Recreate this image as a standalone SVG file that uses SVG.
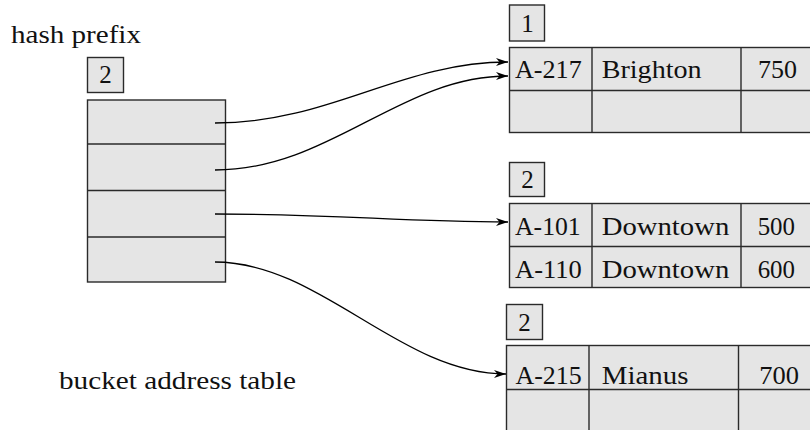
<svg xmlns="http://www.w3.org/2000/svg" width="810" height="430" viewBox="0 0 810 430">
<defs>
<style>
.cell{fill:#e5e5e5;stroke:#2a2a2a;stroke-width:1.4}
.ln{stroke:#2a2a2a;stroke-width:1.4;fill:none}
text{font-family:'Liberation Serif','Times New Roman',serif;font-size:25px;fill:#111}
.c{fill:none;stroke:#000;stroke-width:1.3}
</style>
<marker id="ah" markerUnits="userSpaceOnUse" markerWidth="14" markerHeight="10" refX="12" refY="5" orient="auto">
<path d="M0,1 L12,5 L0,9 L3.5,5 Z" fill="#000"/>
</marker>
</defs>
<rect width="810" height="430" fill="#fff"/>

<g id="labels">
<text x="11" y="43" textLength="130" lengthAdjust="spacingAndGlyphs">hash prefix</text>
<text x="59" y="389" textLength="237" lengthAdjust="spacingAndGlyphs">bucket address table</text>
</g>

<g id="bucket-address-table">
<rect class="cell" x="87.5" y="57.5" width="36" height="35"/>
<text x="105.5" y="83" text-anchor="middle">2</text>
<rect class="cell" x="87.5" y="100" width="138" height="182"/>
<line class="ln" x1="87.5" y1="144" x2="225.5" y2="144"/>
<line class="ln" x1="87.5" y1="190.5" x2="225.5" y2="190.5"/>
<line class="ln" x1="87.5" y1="237" x2="225.5" y2="237"/>
</g>

<g id="bucket1">
<rect class="cell" x="509.5" y="5" width="35" height="36"/>
<text x="527.5" y="32" text-anchor="middle">1</text>
<rect class="cell" x="509.5" y="47.5" width="320" height="85"/>
<line class="ln" x1="509.5" y1="90.5" x2="830" y2="90.5"/>
<line class="ln" x1="592" y1="47.5" x2="592" y2="132.5"/>
<line class="ln" x1="741" y1="47.5" x2="741" y2="132.5"/>
<text x="515" y="78" textLength="66.7" lengthAdjust="spacingAndGlyphs">A-217</text>
<text x="601.7" y="78" textLength="100" lengthAdjust="spacingAndGlyphs">Brighton</text>
<text x="758" y="78" textLength="39" lengthAdjust="spacingAndGlyphs">750</text>
</g>

<g id="bucket2">
<rect class="cell" x="509.5" y="162.5" width="35" height="34"/>
<text x="527.5" y="188.3" text-anchor="middle">2</text>
<rect class="cell" x="509.5" y="203.5" width="320" height="84"/>
<line class="ln" x1="509.5" y1="246.5" x2="830" y2="246.5"/>
<line class="ln" x1="592" y1="203.5" x2="592" y2="287.5"/>
<line class="ln" x1="741" y1="203.5" x2="741" y2="287.5"/>
<text x="515" y="235" textLength="65.7" lengthAdjust="spacingAndGlyphs">A-101</text>
<text x="601.7" y="235" textLength="127.6" lengthAdjust="spacingAndGlyphs">Downtown</text>
<text x="757.7" y="235" textLength="37.3" lengthAdjust="spacingAndGlyphs">500</text>
<text x="515" y="278.3" textLength="66.7" lengthAdjust="spacingAndGlyphs">A-110</text>
<text x="601.7" y="278.3" textLength="127.6" lengthAdjust="spacingAndGlyphs">Downtown</text>
<text x="757.7" y="278.3" textLength="37.3" lengthAdjust="spacingAndGlyphs">600</text>
</g>

<g id="bucket3">
<rect class="cell" x="506.5" y="304.5" width="36" height="35"/>
<text x="524.5" y="330.7" text-anchor="middle">2</text>
<rect class="cell" x="506.5" y="345.5" width="320" height="95"/>
<line class="ln" x1="506.5" y1="389.5" x2="830" y2="389.5"/>
<line class="ln" x1="589" y1="345.5" x2="589" y2="440"/>
<line class="ln" x1="738.5" y1="345.5" x2="738.5" y2="440"/>
<text x="515.5" y="384" textLength="66.2" lengthAdjust="spacingAndGlyphs">A-215</text>
<text x="601.7" y="384" textLength="86.7" lengthAdjust="spacingAndGlyphs">Mianus</text>
<text x="759.3" y="384" textLength="39.7" lengthAdjust="spacingAndGlyphs">700</text>
</g>

<g id="connectors">
<path class="c" d="M215,123 C330,123 400,62 508,62" marker-end="url(#ah)"/>
<path class="c" d="M215,170 C330,170 400,76 508,76" marker-end="url(#ah)"/>
<path class="c" d="M215,214 C340,214 400,222 508,222" marker-end="url(#ah)"/>
<path class="c" d="M215,262 C320,262 400,374 506,374" marker-end="url(#ah)"/>
</g>
</svg>
